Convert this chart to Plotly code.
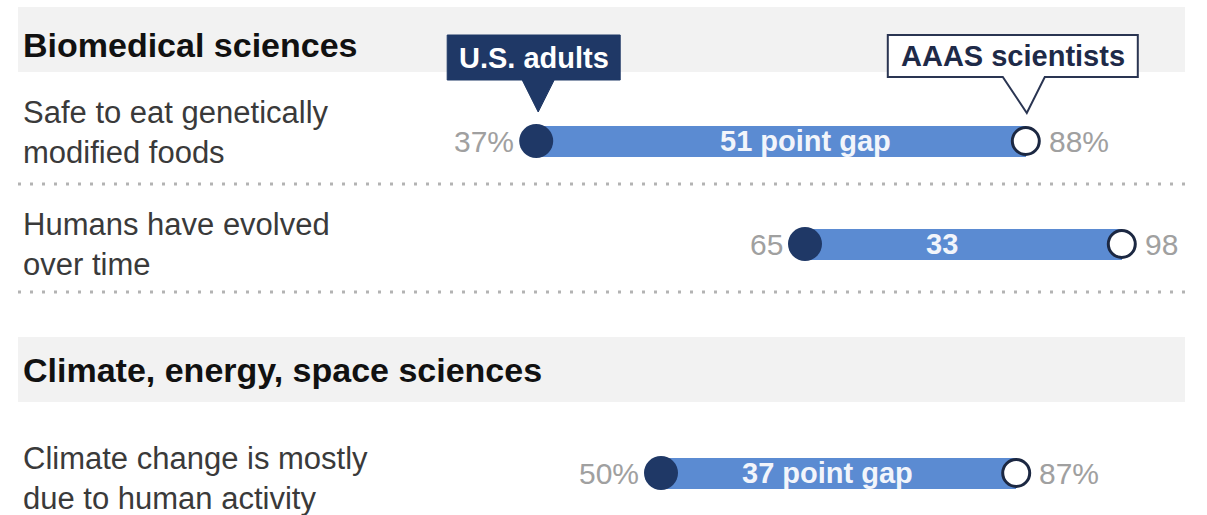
import plotly.graph_objects as go

# ---- data -------------------------------------------------------------
section_titles = ["Biomedical sciences", "Climate, energy, space sciences"]
item_labels = [
    "Safe to eat genetically<br>modified foods",
    "Humans have evolved<br>over time",
    "Climate change is mostly<br>due to human activity",
]
us_adults = [37, 65, 50]
aaas_scientists = [88, 98, 87]
show_pct = [True, False, True]
gap_suffix = [" point gap", "", " point gap"]

# ---- layout / style ---------------------------------------------------
W, H = 1207, 515
PX0, PPU = 181.0, 9.6          # pixel position of 0 and pixels per point
X_RANGE = [-PX0 / PPU, (W - PX0) / PPU]
FONT = "Liberation Sans"

row_y = [141, 244, 473]
label_y = [132, 244, 478]
gap_shift = [24, -21, -11]
section_bands = [(7, 72), (337, 402)]
section_text_y = [45, 370]
separator_y = [184, 292]

NAVY = "#1f3866"
BAR = "#5b8bd2"
RING = "#1c2842"
BAND = "#f2f2f2"
VALUE_GRAY = "#a0a0a0"
LABEL_GRAY = "#3a3a3a"


def paper_x(px):
    return px / W


gaps = [s - a for a, s in zip(us_adults, aaas_scientists)]

fig = go.Figure()

# bars spanning the gap between the two groups
fig.add_trace(go.Bar(
    y=row_y, x=gaps, base=us_adults, orientation="h", width=31,
    marker=dict(color=BAR, line=dict(width=0)), hoverinfo="skip",
    showlegend=False,
))
# U.S. adults dots
fig.add_trace(go.Scatter(
    x=us_adults, y=row_y, mode="markers",
    marker=dict(size=34, color=NAVY, line=dict(width=0)),
    hoverinfo="skip", showlegend=False,
))
# AAAS scientists rings
fig.add_trace(go.Scatter(
    x=aaas_scientists, y=row_y, mode="markers",
    marker=dict(size=27, color="white", line=dict(width=3, color=RING)),
    hoverinfo="skip", showlegend=False,
))

shapes = []
annotations = []

# section header bands and titles
for (y0, y1), ty, title in zip(section_bands, section_text_y, section_titles):
    shapes.append(dict(type="rect", xref="paper", yref="y",
                       x0=paper_x(18), x1=paper_x(1185), y0=y0, y1=y1,
                       fillcolor=BAND, line=dict(width=0), layer="below"))
    annotations.append(dict(text=f"<b>{title}</b>", xref="paper", yref="y",
                            x=paper_x(21), y=ty, xanchor="left", yanchor="middle",
                            showarrow=False,
                            font=dict(family=FONT, size=34, color="#111111")))

# dotted separators between items
for sy in separator_y:
    shapes.append(dict(type="line", xref="paper", yref="y",
                       x0=paper_x(18), x1=paper_x(1185), y0=sy, y1=sy,
                       line=dict(color="#b3b3b3", width=3, dash="3px,9px")))

# item labels, value labels and gap labels
for i, lbl in enumerate(item_labels):
    annotations.append(dict(text=lbl, xref="paper", yref="y",
                            x=paper_x(21), y=label_y[i], xanchor="left",
                            yanchor="middle", align="left", showarrow=False,
                            font=dict(family=FONT, size=31, color=LABEL_GRAY)))
    a, s = us_adults[i], aaas_scientists[i]
    pct = "%" if show_pct[i] else ""
    annotations.append(dict(text=f"{a}{pct}", x=a, y=row_y[i], xanchor="right",
                            yanchor="middle", xshift=-20, showarrow=False,
                            font=dict(family=FONT, size=30, color=VALUE_GRAY)))
    annotations.append(dict(text=f"{s}{pct}", x=s, y=row_y[i], xanchor="left",
                            yanchor="middle", xshift=21, showarrow=False,
                            font=dict(family=FONT, size=30, color=VALUE_GRAY)))
    annotations.append(dict(text=f"<b>{gaps[i]}{gap_suffix[i]}</b>",
                            x=(a + s) / 2, y=row_y[i], xanchor="center",
                            yanchor="middle", xshift=gap_shift[i], showarrow=False,
                            font=dict(family=FONT, size=29, color="#f2f5fb")))


def callout_path(left, right, top, bottom, pl, pr, tip_x, tip_y):
    return (f"M {left},{top} L {right},{top} L {right},{bottom} "
            f"L {pr},{bottom} L {tip_x},{tip_y} L {pl},{bottom} "
            f"L {left},{bottom} Z")


# "U.S. adults" callout anchored on the first adults dot
shapes.append(dict(type="path", xref="x", yref="y", xsizemode="pixel",
                   xanchor=us_adults[0],
                   path=callout_path(-89, 84, 35, 80, -14, 18, 2, 112),
                   fillcolor=NAVY, line=dict(color=NAVY, width=1)))
annotations.append(dict(text="<b>U.S. adults</b>", x=us_adults[0], y=57.5,
                        xshift=-2, xanchor="center", yanchor="middle",
                        showarrow=False,
                        font=dict(family=FONT, size=29, color="white")))

# "AAAS scientists" callout anchored on the first scientists ring
shapes.append(dict(type="path", xref="x", yref="y", xsizemode="pixel",
                   xanchor=aaas_scientists[0],
                   path=callout_path(-138, 112, 35, 77, -23, 19, 1, 113),
                   fillcolor="white", line=dict(color="#2a3552", width=2)))
annotations.append(dict(text="<b>AAAS scientists</b>", x=aaas_scientists[0],
                        y=56, xshift=-13, xanchor="center", yanchor="middle",
                        showarrow=False,
                        font=dict(family=FONT, size=29, color="#1e2a48")))

fig.update_layout(
    width=W, height=H, autosize=False,
    margin=dict(l=0, r=0, t=0, b=0, pad=0),
    paper_bgcolor="white", plot_bgcolor="white",
    xaxis=dict(range=X_RANGE, visible=False, fixedrange=True),
    yaxis=dict(range=[H, 0], visible=False, fixedrange=True),
    shapes=shapes, annotations=annotations, showlegend=False,
    bargap=0,
)

fig.write_html("out.html", config={"displayModeBar": False})
